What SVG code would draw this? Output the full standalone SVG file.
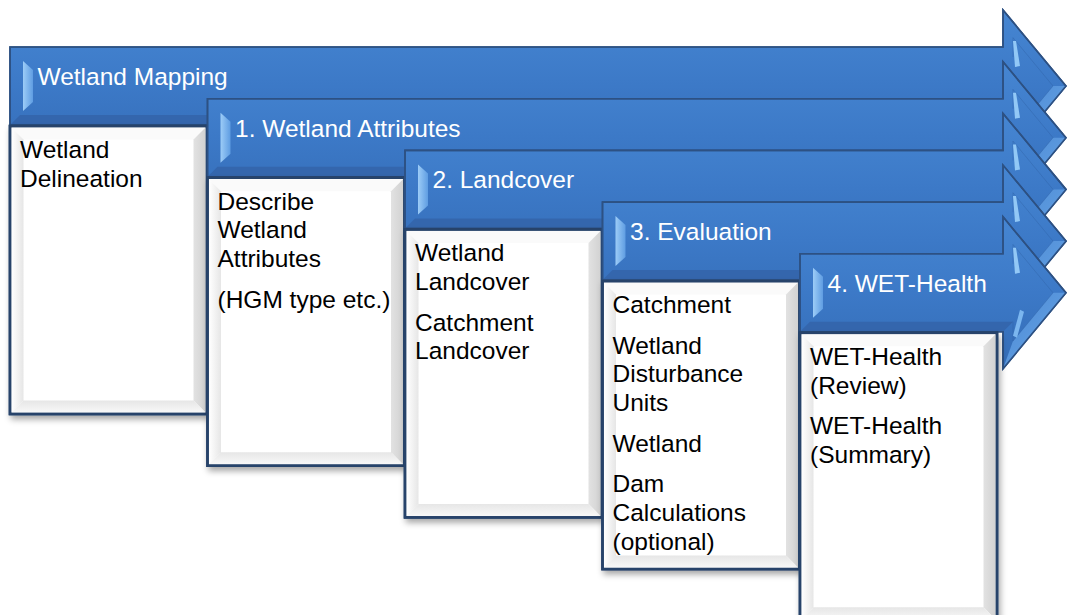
<svg xmlns="http://www.w3.org/2000/svg" width="1067" height="615" viewBox="0 0 1067 615">
<style>
.hdr{font-family:"Liberation Sans",Arial,sans-serif;font-size:24.5px;fill:#ffffff}
.txt{font-family:"Liberation Sans",Arial,sans-serif;font-size:24.5px;fill:#000000}
.body{fill:url(#gBody);stroke:#2D5183;stroke-width:1.6;stroke-linejoin:miter}
.inner{fill:none;stroke:#2F62A5;stroke-opacity:0.4;stroke-width:1}
.bot{fill:#3466AD}
.ldiag{fill:url(#gLow)}
.hl{fill:url(#gHl)}
.st1{fill:#92C8F6}
.st2{fill:#7BB6EF}
</style>
<defs>
<linearGradient id="gBody" x1="0" y1="0" x2="0" y2="1">
<stop offset="0" stop-color="#4686D2"/>
<stop offset="0.5" stop-color="#3C79C7"/>
<stop offset="1" stop-color="#346CB6"/>
</linearGradient>
<linearGradient id="gLow" x1="0" y1="0" x2="1" y2="1">
<stop offset="0" stop-color="#4A88D4"/>
<stop offset="1" stop-color="#6AA7E6"/>
</linearGradient>
<linearGradient id="gHl" x1="0" y1="0" x2="1" y2="0">
<stop offset="0" stop-color="#9CCCF7"/>
<stop offset="1" stop-color="#5F9DE2"/>
</linearGradient>
<linearGradient id="gR" x1="0" y1="0" x2="1" y2="0">
<stop offset="0" stop-color="#E2E2E2"/>
<stop offset="1" stop-color="#D2D2D2"/>
</linearGradient>
<linearGradient id="gL" x1="0" y1="0" x2="1" y2="0">
<stop offset="0" stop-color="#FFFFFF"/>
<stop offset="1" stop-color="#E6E6E6"/>
</linearGradient>
<linearGradient id="gB" x1="0" y1="0" x2="0" y2="1">
<stop offset="0" stop-color="#E6E6E6"/>
<stop offset="1" stop-color="#F8F8F8"/>
</linearGradient>
<filter id="sh" x="-10%" y="-10%" width="125%" height="125%">
<feDropShadow dx="2" dy="4" stdDeviation="3" flood-color="#000" flood-opacity="0.35"/>
</filter>
<g id="box">
<rect x="0" y="0" width="197" height="288" fill="#ffffff" stroke="#27436A" stroke-width="2.6" filter="url(#sh)"/>
<polygon points="1.5,1.5 195.5,1.5 183.5,13.5 13.5,13.5" fill="#FAFAFA"/>
<polygon points="1.5,1.5 13.5,13.5 13.5,274.5 1.5,286.5" fill="url(#gL)"/>
<polygon points="195.5,1.5 195.5,286.5 183.5,274.5 183.5,13.5" fill="url(#gR)"/>
<polygon points="1.5,286.5 13.5,274.5 183.5,274.5 195.5,286.5" fill="url(#gB)"/>
<rect x="0" y="0" width="197" height="288" fill="none" stroke="#27436A" stroke-width="2.6"/>
</g>
<g id="head">
<polygon class="ldiag" points="1066,39 1003,115 1013,87.3 1053,39"/>
<polyline class="inner" points="1013,10 1013,-9.3 1053,39 1013,87.3 1013,68"/>
<polygon class="st1" points="1013,-6 1016,-6 1020,19 1015,20"/>
<polygon class="st2" points="1020,56 1024,58 1017,84 1013,82"/>
</g>
</defs>
<rect width="1067" height="615" fill="#ffffff"/>

<g id="stage-wetland-mapping">
<g transform="translate(0,47)">
<polygon class="body" points="10,0 1003,0 1003,-37 1066,39 1003,115 1003,78 10,78"/>
<polygon class="bot" points="10,78 1003,78 1013,68 20,68"/>
<use href="#head"/>
<polygon class="body" style="fill:none" points="10,0 1003,0 1003,-37 1066,39 1003,115 1003,78 10,78"/>
<polygon class="hl" points="23,14 33,23 33,55 23,64"/>
<text class="hdr" x="37.5" y="38">Wetland Mapping</text>
</g>
<use href="#box" x="10" y="126"/>
<text class="txt" x="20" y="158">Wetland</text>
<text class="txt" x="20" y="186.7">Delineation</text>
</g>

<g id="stage-wetland-attributes">
<g transform="translate(0,98.7)">
<polygon class="body" points="207.5,0 1003,0 1003,-37 1066,39 1003,115 1003,78 207.5,78"/>
<polygon class="bot" points="207.5,78 1003,78 1013,68 217.5,68"/>
<use href="#head"/>
<polygon class="body" style="fill:none" points="207.5,0 1003,0 1003,-37 1066,39 1003,115 1003,78 207.5,78"/>
<polygon class="hl" points="220.5,14 230.5,23 230.5,55 220.5,64"/>
<text class="hdr" x="235" y="38">1. Wetland Attributes</text>
</g>
<use href="#box" x="207.5" y="177.7"/>
<text class="txt" x="217.5" y="209.7">Describe</text>
<text class="txt" x="217.5" y="238.4">Wetland</text>
<text class="txt" x="217.5" y="267.1">Attributes</text>
<text class="txt" x="217.5" y="307.7">(HGM type etc.)</text>
</g>

<g id="stage-landcover">
<g transform="translate(0,150.4)">
<polygon class="body" points="405,0 1003,0 1003,-37 1066,39 1003,115 1003,78 405,78"/>
<polygon class="bot" points="405,78 1003,78 1013,68 415,68"/>
<use href="#head"/>
<polygon class="body" style="fill:none" points="405,0 1003,0 1003,-37 1066,39 1003,115 1003,78 405,78"/>
<polygon class="hl" points="418,14 428,23 428,55 418,64"/>
<text class="hdr" x="432.5" y="38">2. Landcover</text>
</g>
<use href="#box" x="405" y="229.4"/>
<text class="txt" x="415" y="261.4">Wetland</text>
<text class="txt" x="415" y="290.1">Landcover</text>
<text class="txt" x="415" y="330.7">Catchment</text>
<text class="txt" x="415" y="359.4">Landcover</text>
</g>

<g id="stage-evaluation">
<g transform="translate(0,202.1)">
<polygon class="body" points="602.5,0 1003,0 1003,-37 1066,39 1003,115 1003,78 602.5,78"/>
<polygon class="bot" points="602.5,78 1003,78 1013,68 612.5,68"/>
<use href="#head"/>
<polygon class="body" style="fill:none" points="602.5,0 1003,0 1003,-37 1066,39 1003,115 1003,78 602.5,78"/>
<polygon class="hl" points="615.5,14 625.5,23 625.5,55 615.5,64"/>
<text class="hdr" x="630" y="38">3. Evaluation</text>
</g>
<use href="#box" x="602.5" y="281.1"/>
<text class="txt" x="612.5" y="313">Catchment</text>
<text class="txt" x="612.5" y="353.6">Wetland</text>
<text class="txt" x="612.5" y="382.3">Disturbance</text>
<text class="txt" x="612.5" y="411">Units</text>
<text class="txt" x="612.5" y="451.6">Wetland</text>
<text class="txt" x="612.5" y="492.2">Dam</text>
<text class="txt" x="612.5" y="520.9">Calculations</text>
<text class="txt" x="612.5" y="549.6">(optional)</text>
</g>

<g id="stage-wet-health">
<g transform="translate(0,253.8)">
<polygon class="body" points="800,0 1003,0 1003,-37 1066,39 1003,115 1003,78 800,78"/>
<polygon class="bot" points="800,78 1003,78 1013,68 810,68"/>
<use href="#head"/>
<polygon class="body" style="fill:none" points="800,0 1003,0 1003,-37 1066,39 1003,115 1003,78 800,78"/>
<polygon class="hl" points="813,14 823,23 823,55 813,64"/>
<text class="hdr" x="827.5" y="38">4. WET-Health</text>
</g>
<use href="#box" x="800" y="332.8"/>
<text class="txt" x="810" y="364.8">WET-Health</text>
<text class="txt" x="810" y="393.5">(Review)</text>
<text class="txt" x="810" y="434.1">WET-Health</text>
<text class="txt" x="810" y="462.8">(Summary)</text>
</g>
</svg>
